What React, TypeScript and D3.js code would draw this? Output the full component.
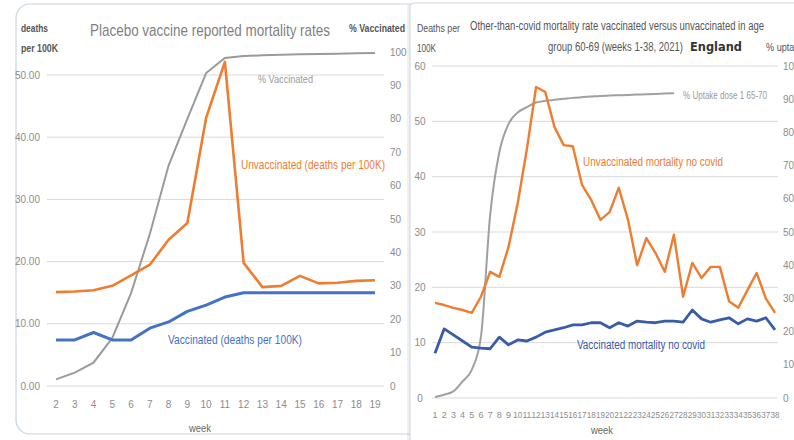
import React, { useRef, useEffect } from 'react';
import * as d3 from 'd3';

// left chart: placebo vaccine, weeks 2-19
const leftWeeks = [2, 3, 4, 5, 6, 7, 8, 9, 10, 11, 12, 13, 14, 15, 16, 17, 18, 19];
const leftPctVaccinated = [2, 4, 7, 14.4, 27.8, 45.5, 66, 80, 93.7, 98.2, 98.8, 99, 99.2, 99.3, 99.4, 99.5, 99.6, 99.7];
const leftUnvaccinated = [15.1, 15.2, 15.4, 16.1, 17.8, 19.5, 23.5, 26.2, 43.1, 52.1, 19.8, 15.9, 16.1, 17.7, 16.5, 16.6, 16.9, 17.0];
const leftVaccinated = [7.4, 7.4, 8.6, 7.4, 7.4, 9.3, 10.3, 12.0, 13.0, 14.3, 15.0, 15.0, 15.0, 15.0, 15.0, 15.0, 15.0, 15.0];
const leftYTicks = [0, 10, 20, 30, 40, 50];
const leftRTicks = [0, 10, 20, 30, 40, 50, 60, 70, 80, 90, 100];

// right chart: England 60-69, weeks 1-38
const rightWeeks = d3.range(1, 39);
const rightUptake = [0.3, 1, 2, 5, 8.5, 18.4, 55, 74, 82.5, 86, 87.6, 89, 89.5, 89.8, 90.1, 90.4, 90.6, 90.8, 91, 91.1, 91.2, 91.3, 91.4, 91.5, 91.6, 91.7, 91.8];
const rightUnvaccinated = [17.2, 16.8, 16.3, 15.9, 15.4, 18.3, 22.8, 21.9, 27.3, 35.2, 45, 56.2, 55.3, 49, 45.7, 45.5, 38.5, 35.8, 32.2, 33.6, 38, 32.2, 24, 28.9, 26.2, 22.8, 29.5, 18.3, 24.4, 21.7, 23.7, 23.7, 17.5, 16.3, 19.5, 22.6, 18, 15.4];
const rightVaccinated = [8.1, 12.5, 11.4, 10.3, 9.2, 9.0, 8.9, 11, 9.6, 10.5, 10.3, 11, 11.9, 12.3, 12.7, 13.2, 13.2, 13.6, 13.6, 12.7, 13.6, 13, 13.9, 13.7, 13.6, 13.9, 13.9, 13.7, 15.9, 14.3, 13.7, 14.1, 14.5, 13.4, 14.3, 13.9, 14.5, 12.3];
const rightYTicks = [0, 10, 20, 30, 40, 50, 60];
const rightRTicks = [0, 10, 20, 30, 40, 50, 60, 70, 80, 90, 100];

const ORANGE = '#ed7d31';
const BLUE = '#4472c4';
const DARKBLUE = '#3a5ca8';
const GRID = '#d9d9d9';
const AXIS_TXT = '#8c8c8c';
const FONT = "'Liberation Sans Narrow', 'Arial Narrow', 'Liberation Sans', sans-serif";

const App = () => {
  const ref = useRef<SVGSVGElement>(null);

  useEffect(() => {
    const svg = d3.select(ref.current);
    svg.selectAll('*').remove();
    drawChart(svg);
  }, []);

  const drawChart = (svg: any) => {
    svg.append('rect').attr('width', 794).attr('height', 440).attr('fill', '#fff');

    const addText = (g: any, x: number, y: number, t: string, size: number, fill: string, len?: number, anchor = 'start', weight = 'normal') => {
      const el = g
        .append('text')
        .attr('x', x)
        .attr('y', y)
        .attr('font-size', size)
        .attr('fill', fill)
        .attr('text-anchor', anchor)
        .attr('font-weight', weight)
        .text(t);
      if (len) el.attr('textLength', len).attr('lengthAdjust', 'spacingAndGlyphs');
      return el;
    };

    // ---------- left panel ----------
    const left = svg.append('g').attr('font-family', FONT);
    left
      .append('rect')
      .attr('x', 16)
      .attr('y', 4)
      .attr('width', 430)
      .attr('height', 430)
      .attr('rx', 14)
      .attr('fill', '#fff')
      .attr('stroke', '#c9d3dc')
      .attr('stroke-width', 1.2);

    const lx = d3.scaleLinear().domain([2, 19]).range([56, 375]);
    const ly = d3.scaleLinear().domain([0, 50]).range([386, 75]);
    const lr = d3.scaleLinear().domain([0, 100]).range([386, 52]);

    left
      .selectAll('line.grid')
      .data(leftYTicks)
      .join('line')
      .attr('x1', 47)
      .attr('x2', 384)
      .attr('y1', d => ly(d))
      .attr('y2', d => ly(d))
      .attr('stroke', GRID)
      .attr('stroke-width', 1);

    left
      .selectAll('text.ly')
      .data(leftYTicks)
      .join('text')
      .attr('x', 40)
      .attr('y', d => ly(d) + 3.5)
      .attr('text-anchor', 'end')
      .attr('font-size', 10)
      .attr('fill', AXIS_TXT)
      .text(d => d.toFixed(2));

    left
      .selectAll('text.lr')
      .data(leftRTicks)
      .join('text')
      .attr('x', 390)
      .attr('y', d => lr(d) + 3.5)
      .attr('font-size', 10)
      .attr('fill', AXIS_TXT)
      .text(d => d);

    left
      .selectAll('text.lx')
      .data(leftWeeks)
      .join('text')
      .attr('x', d => lx(d))
      .attr('y', 408)
      .attr('text-anchor', 'middle')
      .attr('font-size', 10)
      .attr('fill', AXIS_TXT)
      .text(d => d);

    const leftLine = (ys: number[], y: any) =>
      d3
        .line<number>()
        .x((d, i) => lx(leftWeeks[i]))
        .y(d => y(d))(ys);

    left.append('path').attr('d', leftLine(leftPctVaccinated, lr)).attr('fill', 'none').attr('stroke', '#9a9a9a').attr('stroke-width', 2);
    left.append('path').attr('d', leftLine(leftUnvaccinated, ly)).attr('fill', 'none').attr('stroke', ORANGE).attr('stroke-width', 2.6).attr('stroke-linejoin', 'round');
    left.append('path').attr('d', leftLine(leftVaccinated, ly)).attr('fill', 'none').attr('stroke', BLUE).attr('stroke-width', 3).attr('stroke-linejoin', 'round');

    addText(left, 90, 36, 'Placebo vaccine reported mortality rates', 17, '#7f7f7f', 240);
    addText(left, 21, 32, 'deaths', 10.5, '#555', 27, 'start', 'bold');
    addText(left, 21, 52, 'per 100K', 10.5, '#555', 37, 'start', 'bold');
    addText(left, 349, 32, '% Vaccinated', 10.5, '#555', 56, 'start', 'bold');
    addText(left, 258, 83, '% Vaccinated', 11, '#9a9a9a', 55);
    addText(left, 241, 169, 'Unvaccinated (deaths per 100K)', 13, ORANGE, 144);
    addText(left, 168, 344, 'Vaccinated (deaths per 100K)', 13, BLUE, 134);
    addText(left, 200, 432, 'week', 11, '#666', 22, 'middle');

    // ---------- right panel ----------
    const right = svg.append('g').attr('font-family', FONT);
    right
      .append('rect')
      .attr('x', 407)
      .attr('y', 5)
      .attr('width', 400)
      .attr('height', 450)
      .attr('fill', 'rgba(0,0,0,0.06)');
    right
      .append('rect')
      .attr('x', 410)
      .attr('y', 3)
      .attr('width', 400)
      .attr('height', 450)
      .attr('rx', 4)
      .attr('fill', '#fff')
      .attr('stroke', '#cfd6dd')
      .attr('stroke-width', 1);

    const rx = d3.scaleLinear().domain([1, 38]).range([435, 775]);
    const ry = d3.scaleLinear().domain([0, 60]).range([398, 66]);
    const rr = d3.scaleLinear().domain([0, 100]).range([398, 66]);

    right
      .selectAll('line.grid')
      .data(rightYTicks)
      .join('line')
      .attr('x1', 432)
      .attr('x2', 778)
      .attr('y1', d => ry(d))
      .attr('y2', d => ry(d))
      .attr('stroke', GRID)
      .attr('stroke-width', 1);

    right
      .selectAll('text.ry')
      .data(rightYTicks)
      .join('text')
      .attr('x', 420)
      .attr('y', d => ry(d) + 3.5)
      .attr('text-anchor', 'middle')
      .attr('font-size', 10)
      .attr('fill', AXIS_TXT)
      .text(d => d);

    right
      .selectAll('text.rr')
      .data(rightRTicks)
      .join('text')
      .attr('x', 783)
      .attr('y', d => rr(d) + 3.5)
      .attr('font-size', 10)
      .attr('fill', AXIS_TXT)
      .text(d => d);

    right
      .selectAll('text.rx')
      .data(rightWeeks)
      .join('text')
      .attr('x', d => rx(d))
      .attr('y', 418)
      .attr('text-anchor', 'middle')
      .attr('font-size', 9.5)
      .attr('fill', AXIS_TXT)
      .attr('textLength', d => (d < 10 ? 5 : 9))
      .attr('lengthAdjust', 'spacingAndGlyphs')
      .text(d => d);

    const rightLine = (ys: number[], y: any, curve: any = d3.curveLinear) =>
      d3
        .line<number>()
        .x((d, i) => rx(rightWeeks[i]))
        .y(d => y(d))
        .curve(curve)(ys);

    right.append('path').attr('d', rightLine(rightUptake, rr, d3.curveMonotoneX)).attr('fill', 'none').attr('stroke', '#a0a0a0').attr('stroke-width', 2);
    right.append('path').attr('d', rightLine(rightUnvaccinated, ry)).attr('fill', 'none').attr('stroke', ORANGE).attr('stroke-width', 2.4).attr('stroke-linejoin', 'round');
    right.append('path').attr('d', rightLine(rightVaccinated, ry)).attr('fill', 'none').attr('stroke', DARKBLUE).attr('stroke-width', 2.8).attr('stroke-linejoin', 'round');

    addText(right, 417, 32, 'Deaths per', 10, '#555', 43);
    addText(right, 417, 52, '100K', 10, '#555', 19);
    addText(right, 766, 51, '% uptake', 10, '#555', 38);
    addText(right, 470, 30, 'Other-than-covid mortality rate vaccinated versus unvaccinated in age', 12, '#555', 294);
    addText(right, 548, 51, 'group 60-69  (weeks 1-38, 2021)', 12, '#555', 135);
    addText(right, 690, 51, 'England', 11.5, '#333', 52, 'start', 'bold').attr('font-family', "'DejaVu Sans', sans-serif");
    addText(right, 683, 99, '% Uptake dose 1 65-70', 10, '#9a9a9a', 84);
    addText(right, 583, 166, 'Unvaccinated mortality no covid', 12.5, ORANGE, 140);
    addText(right, 577, 349, 'Vaccinated mortality no covid', 12.5, DARKBLUE, 128);
    addText(right, 602, 434, 'week', 11, '#666', 22, 'middle');
  };

  return (
    <svg
      ref={ref}
      width={794}
      height={440}
      style={{ position: 'absolute', left: 0, top: 0, display: 'block' }}
    />
  );
};

export default App;
